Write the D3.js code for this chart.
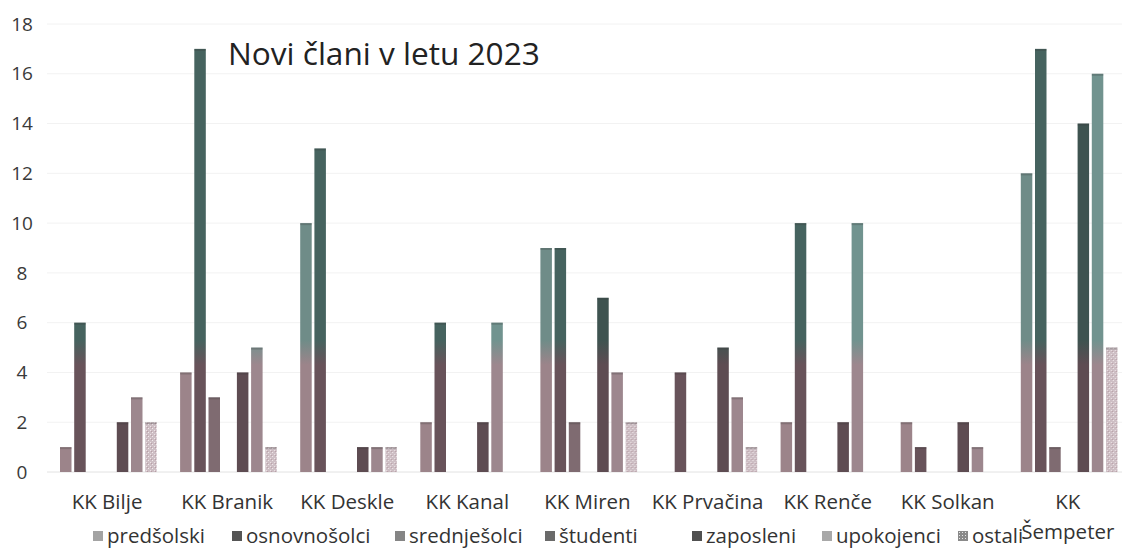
<!DOCTYPE html>
<html>
<head>
<meta charset="utf-8">
<script src="https://cdn.jsdelivr.net/npm/d3@7"></script>
<style>
  body { margin: 0; background: #fff; }
  text { font-family: "Open Sans", sans-serif; }
</style>
</head>
<body>
<div id="chart"></div>
<script>
// categories (clubs) and series (member groups)
const categories = ['KK Bilje', 'KK Branik', 'KK Deskle', 'KK Kanal', 'KK Miren',
                    'KK Prvačina', 'KK Renče', 'KK Solkan', 'KK Šempeter'];
const seriesNames = ['predšolski', 'osnovnošolci', 'srednješolci', 'študenti',
                     'zaposleni', 'upokojenci', 'ostali'];

// values per series, one per category
const predsolski   = [1, 4, 10, 2, 9, 0, 2, 2, 12];
const osnovnosolci = [6, 17, 13, 6, 9, 4, 10, 1, 17];
const srednjesolci = [0, 3, 0, 0, 2, 0, 0, 0, 1];
const studenti     = [0, 0, 0, 0, 0, 0, 0, 0, 0];
const zaposleni    = [2, 4, 1, 2, 7, 5, 2, 2, 14];
const upokojenci   = [3, 5, 1, 6, 4, 3, 10, 1, 16];
const ostali       = [2, 1, 1, 0, 2, 1, 0, 0, 5];

const yTicks = [0, 2, 4, 6, 8, 10, 12, 14, 16, 18];
const title = 'Novi člani v letu 2023';

const seriesValues = [predsolski, osnovnosolci, srednjesolci, studenti,
                      zaposleni, upokojenci, ostali];

// colours: bottom (pinkish) tone, top (teal) tone, legend swatch grey
const lowColors  = ['#9c848a', '#68535a', '#7f6b71', '#6a5a5f', '#5e4c52', '#9d878e', '#d2bfc5'];
const highColors = ['#6f8c88', '#46635f', '#607a76', '#4e6360', '#3e5350', '#71938f', '#cdbec4'];
const legendColors = ['#a3a3a3', '#555555', '#858585', '#6a6a6a', '#505050', '#a8a8a8', '#9a9a9a'];

const W = 1122, H = 549;

const svg = d3.select('#chart').append('svg')
    .attr('width', W)
    .attr('height', H);

// scales
const x0 = d3.scaleBand()
    .domain(categories)
    .range([47, 47 + 9 * 120.1])
    .padding(0);
const x1 = d3.scaleBand()
    .domain(seriesNames)
    .range([13, 109.7])
    .paddingInner(0.19)
    .paddingOuter(0);
const y = d3.scaleLinear()
    .domain([0, 18])
    .range([472, 24]);

const defs = svg.append('defs');

// vertical gradient per series, fixed to the plot height (the scan turns teal above ~4.5)
seriesNames.forEach((s, i) => {
  const g = defs.append('linearGradient')
      .attr('id', 'grad' + i)
      .attr('gradientUnits', 'userSpaceOnUse')
      .attr('x1', 0).attr('x2', 0)
      .attr('y1', y(0)).attr('y2', y(18));
  g.append('stop').attr('offset', 0).attr('stop-color', lowColors[i]);
  g.append('stop').attr('offset', 4.3 / 18).attr('stop-color', lowColors[i]);
  g.append('stop').attr('offset', 5.3 / 18).attr('stop-color', highColors[i]);
  g.append('stop').attr('offset', 1).attr('stop-color', highColors[i]);
});

// speckled fill for "ostali"
const pat = defs.append('pattern')
    .attr('id', 'speckle')
    .attr('patternUnits', 'userSpaceOnUse')
    .attr('width', 4).attr('height', 4);
pat.append('rect').attr('width', 4).attr('height', 4).attr('fill', 'url(#grad6)');
pat.append('rect').attr('x', 1).attr('y', 0).attr('width', 1).attr('height', 1).attr('fill', '#f3eaec');
pat.append('rect').attr('x', 3).attr('y', 2).attr('width', 1).attr('height', 1).attr('fill', '#efe4e7');
pat.append('rect').attr('x', 0).attr('y', 3).attr('width', 1).attr('height', 1).attr('fill', '#b89ea5');

const patL = defs.append('pattern')
    .attr('id', 'speckleLegend')
    .attr('patternUnits', 'userSpaceOnUse')
    .attr('width', 3).attr('height', 3);
patL.append('rect').attr('width', 3).attr('height', 3).attr('fill', '#8a8a8a');
patL.append('rect').attr('x', 1).attr('y', 1).attr('width', 1).attr('height', 1).attr('fill', '#e6e6e6');

// faint horizontal gridlines
svg.append('g')
    .selectAll('line')
    .data(yTicks)
  .enter().append('line')
    .attr('x1', 47).attr('x2', W)
    .attr('y1', d => y(d)).attr('y2', d => y(d))
    .attr('stroke', d => d === 0 ? '#e2e2e2' : '#f2f2f2')
    .attr('stroke-width', 1);

// y tick labels
svg.append('g')
    .selectAll('text')
    .data(yTicks)
  .enter().append('text')
    .attr('x', 22)
    .attr('y', d => y(d))
    .attr('dy', '0.35em')
    .attr('text-anchor', 'middle')
    .attr('font-size', '19px')
    .attr('fill', '#3a3a3a')
    .text(d => d);

// bars
const groups = svg.append('g')
    .selectAll('g')
    .data(categories)
  .enter().append('g')
    .attr('transform', d => 'translate(' + x0(d) + ',0)');

groups.selectAll('rect')
    .data((c, ci) => seriesNames.map((s, si) => ({s: s, si: si, v: seriesValues[si][ci]})))
  .enter().append('rect')
    .filter(d => d.v > 0)
    .attr('x', d => x1(d.s))
    .attr('width', x1.bandwidth())
    .attr('y', d => y(d.v))
    .attr('height', d => y(0) - y(d.v))
    .attr('fill', d => d.si === 6 ? 'url(#speckle)' : 'url(#grad' + d.si + ')');

// darker cap on top of each bar, like in the print
groups.selectAll('.cap')
    .data((c, ci) => seriesNames.map((s, si) => ({s: s, si: si, v: seriesValues[si][ci]}))
                                 .filter(d => d.v > 0))
  .enter().append('rect')
    .attr('class', 'cap')
    .attr('x', d => x1(d.s))
    .attr('width', x1.bandwidth())
    .attr('y', d => y(d.v))
    .attr('height', 2)
    .attr('fill', '#333')
    .attr('opacity', 0.25);

// category labels (Šempeter wraps to two lines)
const catLabels = svg.append('g')
    .selectAll('text')
    .data(categories)
  .enter().append('text')
    .attr('x', d => x0(d) + x0.bandwidth() / 2)
    .attr('y', 509)
    .attr('text-anchor', 'middle')
    .attr('font-size', '20.5px')
    .attr('fill', '#333');
catLabels.each(function(d) {
  const el = d3.select(this);
  if (d === 'KK Šempeter') {
    el.append('tspan').attr('x', x0(d) + x0.bandwidth() / 2).text('KK');
    el.append('tspan').attr('x', x0(d) + x0.bandwidth() / 2).attr('dy', 30).text('Šempeter');
  } else {
    el.text(d);
  }
});

// legend
const legendX = [93, 232, 395, 545, 692, 822, 958];
const legend = svg.append('g')
    .selectAll('g')
    .data(seriesNames)
  .enter().append('g')
    .attr('transform', (d, i) => 'translate(' + legendX[i] + ',0)');
legend.append('rect')
    .attr('x', 0).attr('y', 531)
    .attr('width', 10).attr('height', 10)
    .attr('fill', (d, i) => i === 6 ? 'url(#speckleLegend)' : legendColors[i]);
legend.append('text')
    .attr('x', 14).attr('y', 543)
    .attr('font-size', '20.5px')
    .attr('fill', '#333')
    .text(d => d);

// title inside plot
svg.append('text')
    .attr('x', 228)
    .attr('y', 65)
    .attr('font-size', '31.6px')
    .attr('fill', '#222')
    .text(title);
</script>
</body>
</html>
